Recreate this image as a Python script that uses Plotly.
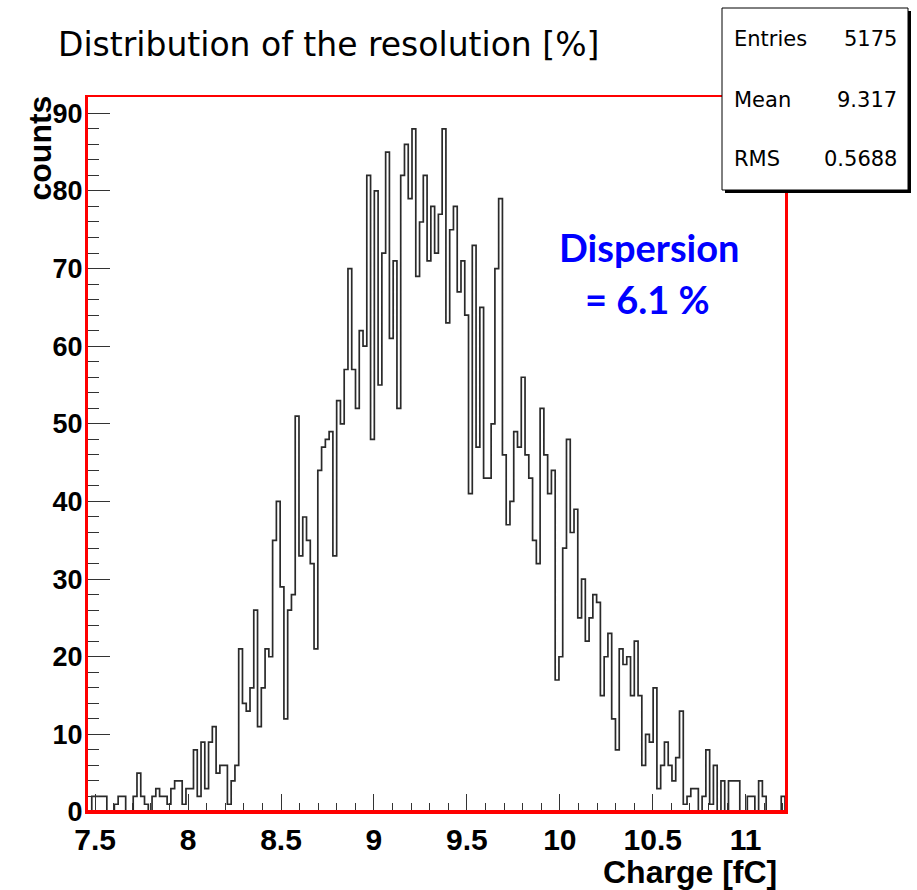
import plotly.graph_objects as go

# Histogram axis range (fC) and bin contents, left to right
x_min, x_max = 7.4615, 11.2115
counts = [
    0, 2, 2, 2, 2, 0, 0, 1, 2, 2, 0, 0, 2, 5, 2, 1, 0, 2, 3, 2,
    2, 1, 3, 4, 4, 1, 3, 3, 8, 2, 9, 3, 9, 11, 5, 6, 6, 1, 4, 6,
    21, 14, 13, 16, 26, 11, 16, 21, 20, 35, 40, 29, 12, 26, 28, 51, 33, 38, 35, 32,
    21, 44, 47, 48, 49, 33, 53, 50,
    57, 70, 57, 52, 62, 60, 82, 48, 80, 55, 72, 85, 61, 71, 52, 82, 86, 79, 88, 69,
    76, 82, 71, 78, 72, 77, 88, 63, 75, 78, 67, 71,
    64, 41, 73, 47, 65, 43, 43, 50, 70, 79, 46, 37, 40, 49, 47, 56, 46, 43, 35, 32,
    52, 46, 41, 44, 17, 20, 34, 48, 36,
    39, 25, 30, 22, 25, 28, 27, 15, 20, 23, 12, 8, 21, 19, 20, 15, 22, 15, 6, 10,
    9, 16, 3, 6, 9, 6, 4, 7, 13,
    1, 2, 3, 3, 0, 2, 8, 1, 6, 0, 4, 0, 4, 4, 4, 0, 0, 2, 2, 0,
    4, 2, 0, 0, 0, 0, 2,
]

stat_names = ["Entries", "Mean", "RMS"]
stat_values = ["5175", "9.317", "0.5688"]

title_text = "Distribution of the resolution [%]"
x_title = "Charge [fC]"
y_title = "counts"
note_lines = ["Dispersion", "= 6.1 %"]

y_max = 92.1

# bin edges and step outline
n_bins = len(counts)
bw = (x_max - x_min) / n_bins
edges = [x_min + i * bw for i in range(n_bins + 1)]
xs = [edges[0]] + edges[:-1] + [edges[-1]]
ys = [0] + counts + [0]

fig = go.Figure()
fig.add_trace(go.Scatter(
    x=xs, y=ys, mode="lines",
    line=dict(shape="hv", color="#2a2a2a", width=1.7),
    hoverinfo="skip", showlegend=False,
))

W, H = 917, 890
L, R, T, B = 88, 132, 97, 78
pw, ph = W - L - R, H - T - B


def px(xp):
    return (xp - L) / pw


def py(yp):
    return (H - B - yp) / ph


bold_sans = "Liberation Sans, Arial, sans-serif"

fig.update_layout(
    width=W, height=H,
    margin=dict(l=L, r=R, t=T, b=B),
    paper_bgcolor="white", plot_bgcolor="white",
    showlegend=False,
    xaxis=dict(
        range=[x_min, x_max], tick0=7.5, dtick=0.5,
        ticks="inside", ticklen=18, tickwidth=1, tickcolor="#333333",
        minor=dict(ticks="inside", ticklen=9, dtick=0.1, tickcolor="#333333", tickwidth=1),
        showline=True, linecolor="red", linewidth=2, mirror=True,
        showgrid=False, zeroline=False,
        tickfont=dict(family=bold_sans, size=30, color="black", weight=700),
    ),
    yaxis=dict(
        range=[0, y_max], tick0=0, dtick=10,
        ticks="inside", ticklen=22, tickwidth=1, tickcolor="#333333",
        minor=dict(ticks="inside", ticklen=11, dtick=2, tickcolor="#333333", tickwidth=1),
        showline=True, linecolor="red", linewidth=3, mirror=True,
        showgrid=False, zeroline=False,
        ticklabelstandoff=-3,
        tickfont=dict(family=bold_sans, size=27, color="black", weight=700),
    ),
)

# heavier baseline
fig.add_shape(type="line", xref="x", yref="y", x0=x_min, x1=x_max, y0=0, y1=0,
              line=dict(color="red", width=4), layer="above")

# statistics box with drop shadow
bx0, bx1, by0, by1 = 722, 908, 8, 190
fig.add_shape(type="rect", xref="paper", yref="paper",
              x0=px(bx0 + 3), x1=px(bx1 + 3), y0=py(by1 + 3), y1=py(by0 + 3),
              fillcolor="black", line=dict(width=0), layer="above")
fig.add_shape(type="rect", xref="paper", yref="paper",
              x0=px(bx0), x1=px(bx1), y0=py(by1), y1=py(by0),
              fillcolor="white", line=dict(color="black", width=1), layer="above")

stat_font = dict(family="DejaVu Sans, sans-serif", size=21, color="black")
row_y = [39, 100, 159]
for name, val, yy in zip(stat_names, stat_values, row_y):
    fig.add_annotation(text=name, xref="paper", yref="paper", x=px(732), y=py(yy),
                       xanchor="left", yanchor="middle", showarrow=False, font=stat_font)
    fig.add_annotation(text=val, xref="paper", yref="paper", x=px(899), y=py(yy),
                       xanchor="right", yanchor="middle", showarrow=False, font=stat_font)

# title
fig.add_annotation(text=title_text, xref="paper", yref="paper", x=px(56), y=py(45),
                   xanchor="left", yanchor="middle", showarrow=False,
                   font=dict(family="DejaVu Sans, sans-serif", size=33, color="black"))

# axis titles
fig.add_annotation(text=x_title, xref="paper", yref="paper", x=px(779), y=py(872),
                   xanchor="right", yanchor="middle", showarrow=False,
                   font=dict(family=bold_sans, size=32, color="black", weight=700))
fig.add_annotation(text=y_title, xref="paper", yref="paper", x=px(39), y=py(94),
                   xanchor="center", yanchor="top", textangle=-90, showarrow=False,
                   font=dict(family=bold_sans, size=32, color="black", weight=700))

# dispersion note
note_font = dict(family="Lato, sans-serif", size=38, color="#0000ff", weight=700)
fig.add_annotation(text=note_lines[0], xref="paper", yref="paper", x=px(649), y=py(247),
                   xanchor="center", yanchor="middle", showarrow=False, font=note_font)
fig.add_annotation(text=note_lines[1], xref="paper", yref="paper", x=px(647), y=py(299),
                   xanchor="center", yanchor="middle", showarrow=False, font=note_font)

fig.write_html("out.html")
